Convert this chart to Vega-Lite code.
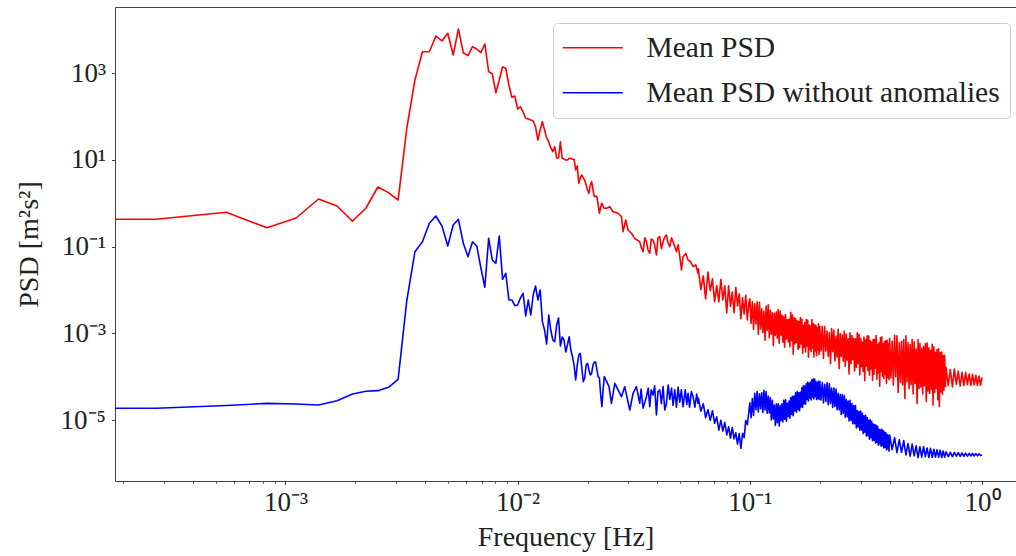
{
  "$schema": "https://vega.github.io/schema/vega-lite/v6.json",
  "width": 901,
  "height": 474,
  "autosize": {"type": "none"},
  "padding": {"left": 115, "top": 7, "right": 0, "bottom": 75},
  "background": "white",
  "config": {
    "view": {"stroke": "#444444", "strokeWidth": 1},
    "font": "Liberation Serif",
    "axis": {
      "domain": false,
      "grid": false,
      "tickColor": "#444444",
      "tickWidth": 1,
      "labelFont": "Liberation Serif",
      "titleFont": "Liberation Serif",
      "labelColor": "#222222",
      "titleColor": "#222222",
      "titleFontWeight": "normal",
      "labelOverlap": false,
      "labelFlush": false
    }
  },
  "encoding": {
    "x": {
      "field": "f",
      "type": "quantitative",
      "scale": {"type": "log", "domain": [0.00018446, 1.4002], "nice": false},
      "axis": {
        "title": "Frequency [Hz]",
        "titleFontSize": 28,
        "titlePadding": 8,
        "labelFontSize": 27,
        "labelPadding": 5,
        "values": [0.0002,0.0003,0.0004,0.0005,0.0006,0.0007,0.0008,0.0009,0.001,0.002,0.003,0.004,0.005,0.006,0.007,0.008,0.009,0.01,0.02,0.03,0.04,0.05,0.06,0.07,0.08,0.09,0.1,0.2,0.3,0.4,0.5,0.6,0.7,0.8,0.9,1],
        "tickSize": {"condition": {"test": "abs(log(datum.value)/LN10 - round(log(datum.value)/LN10)) < 0.01", "value": 3.5}, "value": 2},
        "labelExpr": "abs(log(datum.value)/LN10 - round(log(datum.value)/LN10)) < 0.01 ? '10' + (round(log(datum.value)/LN10) < 0 ? '⁻' : '') + substring('⁰¹²³⁴⁵⁶⁷⁸⁹', abs(round(log(datum.value)/LN10)), abs(round(log(datum.value)/LN10)) + 1) : ''"
      }
    },
    "y": {
      "field": "p",
      "type": "quantitative",
      "scale": {"type": "log", "domain": [3.97e-7, 33540], "nice": false},
      "axis": {
        "title": "PSD [m²s²]",
        "titleFontSize": 28,
        "titlePadding": 17,
        "labelFontSize": 27,
        "labelPadding": 6,
        "tickSize": 3.5,
        "values": [0.00001, 0.001, 0.1, 10, 1000],
        "labelExpr": "'10' + (round(log(datum.value)/LN10) < 0 ? '⁻' : '') + substring('⁰¹²³⁴⁵⁶⁷⁸⁹', abs(round(log(datum.value)/LN10)), abs(round(log(datum.value)/LN10)) + 1)"
      }
    },
    "color": {
      "type": "nominal",
      "scale": {"domain": ["Mean PSD", "Mean PSD without anomalies"], "range": ["#ff0000", "#0000ff"]},
      "legend": {
        "orient": "none",
        "legendX": 438,
        "legendY": 16,
        "title": null,
        "symbolType": "M-3,0H3",
        "symbolSize": 400,
        "symbolStrokeWidth": 1.6,
        "symbolOffset": 15,
        "labelFont": "Liberation Serif",
        "labelFontSize": 29.5,
        "labelColor": "#222222",
        "labelOffset": 39,
        "labelLimit": 0,
        "rowPadding": 14,
        "padding": 10,
        "cornerRadius": 4,
        "strokeColor": "#cccccc",
        "fillColor": "rgba(255,255,255,0.8)"
      }
    }
  },
  "layer": [
    {
      "data": {"values": [
{"f":0.0001,"p":0.428},{"f":0.0002778,"p":0.428},{"f":0.0005556,"p":0.621},{"f":0.0008333,"p":0.274},{"f":0.001111,"p":0.459},{"f":0.001389,"p":1.257},{"f":0.001667,"p":0.868},{"f":0.001944,"p":0.386},{"f":0.002222,"p":0.78},{"f":0.0025,"p":2.38},{"f":0.002778,"p":1.76},{"f":0.003056,"p":1.19},{"f":0.003333,"p":54.5},{"f":0.003611,"p":697},{"f":0.003889,"p":3126},{"f":0.004167,"p":3126},{"f":0.004444,"p":7194},{"f":0.004722,"p":5520},{"f":0.005,"p":8300},{"f":0.005278,"p":2624},{"f":0.005556,"p":10430},{"f":0.005833,"p":2965},{"f":0.006111,"p":2529},{"f":0.006389,"p":4078},{"f":0.006667,"p":3608},{"f":0.006944,"p":2965},{"f":0.007222,"p":4710},{"f":0.0075,"p":1082},{"f":0.007778,"p":957},{"f":0.008056,"p":355},{"f":0.008333,"p":697},{"f":0.008611,"p":1410},{"f":0.008889,"p":1296},{"f":0.009167,"p":534},{"f":0.009444,"p":278},{"f":0.009722,"p":298},{"f":0.01,"p":149},
{"f":0.010278,"p":169},{"f":0.010556,"p":127},{"f":0.010833,"p":91.2},{"f":0.011111,"p":87.9},{"f":0.011389,"p":83.4},{"f":0.011667,"p":79.1},{"f":0.011944,"p":57.4},{"f":0.012222,"p":28.8},{"f":0.0125,"p":49},{"f":0.012778,"p":76.1},{"f":0.013056,"p":49},{"f":0.013333,"p":32.1},{"f":0.013611,"p":26.3},{"f":0.013889,"p":18.9},{"f":0.014167,"p":15.5},{"f":0.014444,"p":20.2},{"f":0.014722,"p":11.1},{"f":0.015,"p":11.1},{"f":0.015278,"p":26.3},{"f":0.015556,"p":10.9},{"f":0.015833,"p":10.5},{"f":0.016111,"p":9.97},{"f":0.016389,"p":9.97},{"f":0.016667,"p":10.9},{"f":0.016944,"p":10.9},{"f":0.017222,"p":10.4},{"f":0.0175,"p":10.4},{"f":0.017778,"p":5.86},{"f":0.018056,"p":7.25},{"f":0.018333,"p":2.89},{"f":0.018611,"p":3.84},{"f":0.018889,"p":4.5},{"f":0.019167,"p":3.84},{"f":0.019444,"p":3.45},{"f":0.019722,"p":2.64},{"f":0.02,"p":2.03},{"f":0.020278,"p":1.7},{"f":0.020556,"p":2.64},{"f":0.020833,"p":3.15},{"f":0.021111,"p":2.03},{"f":0.021389,"p":1.42},{"f":0.021667,"p":1.47},{"f":0.021944,"p":1.42},{"f":0.022222,"p":0.915},{"f":0.0225,"p":0.589},{"f":0.022778,"p":0.822},{"f":0.023056,"p":1.0},{"f":0.023333,"p":0.867},{"f":0.023611,"p":0.767},
{"f":0.02413,"p":0.768},{"f":0.02492,"p":0.836},{"f":0.02576,"p":0.641},{"f":0.02706,"p":0.589},{"f":0.02799,"p":0.491},{"f":0.02844,"p":0.222},{"f":0.02921,"p":0.413},{"f":0.02988,"p":0.243},{"f":0.03091,"p":0.204},{"f":0.03193,"p":0.156},{"f":0.03355,"p":0.13},{"f":0.0341,"p":0.095},{"f":0.03467,"p":0.0767},{"f":0.0353,"p":0.16},{"f":0.03586,"p":0.13},{"f":0.0364,"p":0.085},{"f":0.03705,"p":0.0705},{"f":0.0376,"p":0.15},{"f":0.03828,"p":0.143},{"f":0.0389,"p":0.11},{"f":0.0396,"p":0.0644},{"f":0.0402,"p":0.16},{"f":0.04093,"p":0.17},{"f":0.0416,"p":0.09},{"f":0.04229,"p":0.13},{"f":0.043,"p":0.17},{"f":0.04373,"p":0.186},{"f":0.0445,"p":0.12},{"f":0.04519,"p":0.1},{"f":0.046,"p":0.16},{"f":0.0467,"p":0.13},{"f":0.0475,"p":0.1},{"f":0.0483,"p":0.0767},{"f":0.0491,"p":0.11},{"f":0.0499,"p":0.06},{"f":0.05075,"p":0.029},{"f":0.05156,"p":0.0588},{"f":0.053,"p":0.07},{"f":0.05418,"p":0.0494},{"f":0.0556,"p":0.045},{"f":0.05693,"p":0.0346},{"f":0.0585,"p":0.038},{"f":0.05981,"p":0.0244},
{"f":0.06,"p":0.0309},{"f":0.0615,"p":0.0102},{"f":0.063,"p":0.0212},{"f":0.0645,"p":0.00625},{"f":0.066,"p":0.0261},{"f":0.0675,"p":0.0097},{"f":0.069,"p":0.0182},{"f":0.0705,"p":0.00538},{"f":0.072,"p":0.0127},{"f":0.0735,"p":0.00532},{"f":0.075,"p":0.0178},{"f":0.0765,"p":0.00594},{"f":0.078,"p":0.0126},{"f":0.0795,"p":0.00299},{"f":0.081,"p":0.0126},{"f":0.0825,"p":0.00423},{"f":0.084,"p":0.00897},{"f":0.0855,"p":0.00302},{"f":0.087,"p":0.0114},{"f":0.0885,"p":0.00432},{"f":0.09,"p":0.0082},{"f":0.0915,"p":0.0022},{"f":0.093,"p":0.00662},{"f":0.0945,"p":0.00282},{"f":0.096,"p":0.00759},{"f":0.0975,"p":0.00204},{"f":0.099,"p":0.0049},
{"f":0.1,"p":0.00631},{"f":0.10125,"p":0.00171},{"f":0.1025,"p":0.00545},{"f":0.10375,"p":0.00126},{"f":0.105,"p":0.00482},{"f":0.10625,"p":0.00165},{"f":0.1075,"p":0.00538},{"f":0.10875,"p":0.000966},{"f":0.11,"p":0.00525},{"f":0.11125,"p":0.00127},{"f":0.1125,"p":0.00371},{"f":0.11375,"p":0.00106},{"f":0.115,"p":0.00323},{"f":0.11625,"p":0.000698},{"f":0.1175,"p":0.00426},{"f":0.11875,"p":0.00117},{"f":0.12,"p":0.00456},{"f":0.12125,"p":0.000796},{"f":0.1225,"p":0.00341},{"f":0.12375,"p":0.000966},{"f":0.125,"p":0.00301},{"f":0.12625,"p":0.000525},{"f":0.1275,"p":0.0029},{"f":0.12875,"p":0.000902},{"f":0.13,"p":0.00315},{"f":0.13125,"p":0.000776},{"f":0.1325,"p":0.00357},{"f":0.13375,"p":0.000597},{"f":0.135,"p":0.0033},{"f":0.13625,"p":0.000916},{"f":0.1375,"p":0.00266},{"f":0.13875,"p":0.000628},{"f":0.14,"p":0.00246},{"f":0.14125,"p":0.000483},{"f":0.1425,"p":0.00274},{"f":0.14375,"p":0.000743},{"f":0.145,"p":0.00206},{"f":0.14625,"p":0.000641},{"f":0.1475,"p":0.00214},{"f":0.14875,"p":0.000494},{"f":0.15,"p":0.00308},{"f":0.15125,"p":0.000679},{"f":0.1525,"p":0.00267},{"f":0.15375,"p":0.00033},{"f":0.155,"p":0.00231},{"f":0.15625,"p":0.000571},{"f":0.1575,"p":0.00219},{"f":0.15875,"p":0.000624},{"f":0.16,"p":0.00195},{"f":0.16125,"p":0.00043},{"f":0.1625,"p":0.00189},{"f":0.16375,"p":0.000469},{"f":0.165,"p":0.00232},{"f":0.16625,"p":0.000574},{"f":0.1675,"p":0.00215},{"f":0.16875,"p":0.000352},{"f":0.17,"p":0.00155},{"f":0.17125,"p":0.000484},{"f":0.1725,"p":0.00177},{"f":0.17375,"p":0.000375},{"f":0.175,"p":0.00208},{"f":0.17625,"p":0.000515},{"f":0.1775,"p":0.00202},{"f":0.17875,"p":0.000282},{"f":0.18,"p":0.00157},{"f":0.18125,"p":0.000436},{"f":0.1825,"p":0.00146},{"f":0.18375,"p":0.000379},{"f":0.185,"p":0.0021},{"f":0.18625,"p":0.000465},{"f":0.1875,"p":0.00167},{"f":0.18875,"p":0.000286},{"f":0.19,"p":0.00159},{"f":0.19125,"p":0.000394},{"f":0.1925,"p":0.00152},{"f":0.19375,"p":0.000306},{"f":0.195,"p":0.00135},{"f":0.19625,"p":0.000422},{"f":0.1975,"p":0.00166},{"f":0.19875,"p":0.000327},
{"f":0.2,"p":0.00145},{"f":0.2025,"p":0.000395},{"f":0.205,"p":0.00146},{"f":0.2075,"p":0.000265},{"f":0.21,"p":0.00145},{"f":0.2125,"p":0.000397},{"f":0.215,"p":0.00114},{"f":0.2175,"p":0.000299},{"f":0.22,"p":0.00103},{"f":0.2225,"p":0.0002},{"f":0.225,"p":0.00129},{"f":0.2275,"p":0.000381},{"f":0.23,"p":0.00118},{"f":0.2325,"p":0.000232},{"f":0.235,"p":0.000867},{"f":0.2375,"p":0.000282},{"f":0.24,"p":0.00124},{"f":0.2425,"p":0.000154},{"f":0.245,"p":0.000977},{"f":0.2475,"p":0.000297},{"f":0.25,"p":0.000925},{"f":0.2525,"p":0.000229},{"f":0.255,"p":0.00113},{"f":0.2575,"p":0.000176},{"f":0.26,"p":0.000975},{"f":0.2625,"p":0.000241},{"f":0.265,"p":0.000752},{"f":0.2675,"p":0.000117},{"f":0.27,"p":0.00103},{"f":0.2725,"p":0.000203},{"f":0.275,"p":0.000893},{"f":0.2775,"p":0.000248},{"f":0.28,"p":0.000773},{"f":0.2825,"p":0.000136},{"f":0.285,"p":0.000752},{"f":0.2875,"p":0.000166},{"f":0.29,"p":0.00103},{"f":0.2925,"p":0.000203},{"f":0.295,"p":0.000962},{"f":0.2975,"p":0.000111},{"f":0.3,"p":0.000778},{"f":0.3025,"p":0.000172},{"f":0.305,"p":0.000631},{"f":0.3075,"p":0.000133},{"f":0.31,"p":0.00083},{"f":0.3125,"p":0.0000818},{"f":0.315,"p":0.000721},{"f":0.3175,"p":0.000179},{"f":0.32,"p":0.000887},{"f":0.3225,"p":0.000139},{"f":0.325,"p":0.000871},{"f":0.3275,"p":0.000109},{"f":0.33,"p":0.000679},{"f":0.3325,"p":0.000151},{"f":0.335,"p":0.000637},{"f":0.3375,"p":0.0000832},{"f":0.34,"p":0.000735},{"f":0.3425,"p":0.000115},{"f":0.345,"p":0.000723},{"f":0.3475,"p":0.00016},{"f":0.35,"p":0.000893},{"f":0.3525,"p":0.0000885},{"f":0.355,"p":0.000555},{"f":0.3575,"p":0.000123},{"f":0.36,"p":0.000611},{"f":0.3625,"p":0.0000605},{"f":0.365,"p":0.000793},{"f":0.3675,"p":0.000133},{"f":0.37,"p":0.000836},{"f":0.3725,"p":0.000104},{"f":0.375,"p":0.000582},{"f":0.3775,"p":0.0000914},{"f":0.38,"p":0.000643},{"f":0.3825,"p":0.000113},{"f":0.385,"p":0.000678},{"f":0.3875,"p":0.0000705},{"f":0.39,"p":0.0007},{"f":0.3925,"p":0.0000979},{"f":0.395,"p":0.000586},{"f":0.3975,"p":0.0000861},
{"f":0.4,"p":0.00076},{"f":0.405,"p":0.0000944},{"f":0.41,"p":0.000658},{"f":0.415,"p":0.0000649},{"f":0.42,"p":0.000904},{"f":0.425,"p":0.0001},{"f":0.43,"p":0.000879},{"f":0.435,"p":0.0000435},{"f":0.44,"p":0.000605},{"f":0.445,"p":0.0000752},{"f":0.45,"p":0.000661},{"f":0.455,"p":0.0000652},{"f":0.46,"p":0.000721},{"f":0.465,"p":0.0000318},{"f":0.47,"p":0.000883},{"f":0.475,"p":0.0000776},{"f":0.48,"p":0.00061},{"f":0.485,"p":0.0000536},{"f":0.49,"p":0.000553},{"f":0.495,"p":0.0000656},{"f":0.5,"p":0.000728},{"f":0.505,"p":0.0000404},{"f":0.51,"p":0.000632},{"f":0.515,"p":0.0000701},{"f":0.52,"p":0.000438},{"f":0.525,"p":0.0000243},{"f":0.53,"p":0.000724},{"f":0.535,"p":0.0000531},{"f":0.54,"p":0.000589},{"f":0.545,"p":0.0000582},{"f":0.55,"p":0.000457},{"f":0.555,"p":0.0000403},{"f":0.56,"p":0.000501},{"f":0.565,"p":0.0000624},{"f":0.57,"p":0.000575},{"f":0.575,"p":0.0000272},{"f":0.58,"p":0.000604},{"f":0.585,"p":0.0000474},{"f":0.59,"p":0.000469},{"f":0.595,"p":0.0000413},{"f":0.6,"p":0.000409},{"f":0.605,"p":0.0000509},{"f":0.61,"p":0.000566},{"f":0.615,"p":0.0000223},{"f":0.62,"p":0.000494},{"f":0.625,"p":0.0000436},{"f":0.63,"p":0.000367},{"f":0.635,"p":0.0000538},{"f":0.64,"p":0.000424},{"f":0.645,"p":0.0000296},{"f":0.65,"p":0.000445},{"f":0.655,"p":0.0000206},{"f":0.66,"p":0.000363},{"f":0.665,"p":0.0000452},{"f":0.67,"p":0.000372},{"f":0.675,"p":0.0000395},{"f":0.68,"p":0.000311},{"f":0.685,"p":0.0000489},{"f":0.69,"p":0.000313},{"f":0.695,"p":0.0000604},
{"f":0.7,"p":0.000166},{"f":0.715,"p":0.0000625},{"f":0.73,"p":0.000148},{"f":0.745,"p":0.0000584},{"f":0.76,"p":0.000152},{"f":0.775,"p":0.0000672},{"f":0.79,"p":0.000136},{"f":0.805,"p":0.0000614},{"f":0.82,"p":0.000127},{"f":0.835,"p":0.000063},{"f":0.85,"p":0.000127},{"f":0.865,"p":0.0000661},{"f":0.88,"p":0.000116},{"f":0.895,"p":0.0000633},{"f":0.91,"p":0.000114},{"f":0.925,"p":0.0000649},{"f":0.94,"p":0.000109},{"f":0.955,"p":0.0000636},{"f":0.97,"p":0.000104},{"f":0.985,"p":0.0000637},{"f":1.0,"p":0.0000977}
      ]},
      "mark": {"type": "line", "clip": true, "strokeWidth": 1.6, "strokeJoin": "round"},
      "encoding": {"color": {"datum": "Mean PSD"}}
    },
    {
      "data": {"values": [
{"f":0.0001,"p":1.88e-5},{"f":0.0002778,"p":1.88e-5},{"f":0.0005556,"p":2.18e-5},{"f":0.0008333,"p":2.45e-5},{"f":0.001111,"p":2.37e-5},{"f":0.001389,"p":2.24e-5},{"f":0.001667,"p":2.82e-5},{"f":0.001944,"p":4.03e-5},{"f":0.002222,"p":4.65e-5},{"f":0.0025,"p":4.8e-5},{"f":0.002778,"p":5.74e-5},{"f":0.003056,"p":8.77e-5},{"f":0.003333,"p":0.0059},{"f":0.003611,"p":0.0767},{"f":0.003889,"p":0.13},{"f":0.004167,"p":0.346},{"f":0.004444,"p":0.51},{"f":0.004722,"p":0.3},{"f":0.005,"p":0.104},{"f":0.005278,"p":0.316},{"f":0.005556,"p":0.428},{"f":0.005833,"p":0.12},{"f":0.006111,"p":0.0588},{"f":0.006389,"p":0.13},{"f":0.006667,"p":0.104},{"f":0.006944,"p":0.0323},{"f":0.007222,"p":0.0116},{"f":0.0075,"p":0.156},{"f":0.007778,"p":0.0493},{"f":0.008056,"p":0.0414},{"f":0.008333,"p":0.177},{"f":0.008611,"p":0.0177},{"f":0.008889,"p":0.0244},{"f":0.009167,"p":0.00591},{"f":0.009444,"p":0.00591},{"f":0.009722,"p":0.00437},{"f":0.01,"p":0.00453},
{"f":0.010278,"p":0.00656},{"f":0.010556,"p":0.00843},{"f":0.010833,"p":0.00253},{"f":0.011111,"p":0.00591},{"f":0.011389,"p":0.00267},{"f":0.011667,"p":0.00771},{"f":0.011944,"p":0.0124},{"f":0.012222,"p":0.00591},{"f":0.0125,"p":0.01005},{"f":0.012778,"p":0.00187},{"f":0.013056,"p":0.0012},{"f":0.013333,"p":0.000571},{"f":0.013611,"p":0.00267},{"f":0.013889,"p":0.0012},{"f":0.014167,"p":0.000706},{"f":0.014444,"p":0.000646},{"f":0.014722,"p":0.00157},{"f":0.015,"p":0.00227},{"f":0.015278,"p":0.000514},{"f":0.015556,"p":0.000828},{"f":0.015833,"p":0.000706},{"f":0.016111,"p":0.000374},{"f":0.016389,"p":0.000542},{"f":0.016667,"p":0.000841},{"f":0.016944,"p":0.000416},{"f":0.017222,"p":0.000291},{"f":0.0175,"p":0.000187},{"f":0.017778,"p":0.0000845},{"f":0.018056,"p":0.000187},{"f":0.018333,"p":0.000319},{"f":0.018611,"p":0.000349},{"f":0.018889,"p":0.00016},{"f":0.019167,"p":0.0000773},{"f":0.019444,"p":0.000094},{"f":0.019722,"p":0.000187},{"f":0.02,"p":0.000205},{"f":0.020278,"p":0.000144},{"f":0.020556,"p":0.00011},{"f":0.020833,"p":0.000121},{"f":0.021111,"p":0.000187},{"f":0.021389,"p":0.00022},{"f":0.021667,"p":0.00022},{"f":0.021944,"p":0.000144},{"f":0.022222,"p":0.000101},{"f":0.0225,"p":0.000094},{"f":0.022778,"p":0.0000381},{"f":0.023056,"p":0.0000205},{"f":0.023333,"p":0.0000498},{"f":0.023611,"p":0.000101},
{"f":0.02475,"p":0.0000593},{"f":0.02535,"p":0.0000245},{"f":0.02619,"p":0.000071},{"f":0.02706,"p":0.0000498},{"f":0.02799,"p":0.0000348},{"f":0.02891,"p":0.0000593},{"f":0.0304,"p":0.0000172},{"f":0.03141,"p":0.0000418},{"f":0.03248,"p":0.0000593},{"f":0.03355,"p":0.0000245},{"f":0.034,"p":0.000052},{"f":0.0347,"p":0.000019},{"f":0.03586,"p":0.0000348},{"f":0.0365,"p":0.000055},{"f":0.03705,"p":0.0000205},{"f":0.0376,"p":0.00005},{"f":0.03828,"p":0.0000381},{"f":0.0389,"p":0.000062},{"f":0.0396,"p":0.0000132},{"f":0.0402,"p":0.000045},{"f":0.04093,"p":0.0000498},{"f":0.0416,"p":0.000024},{"f":0.0423,"p":0.00006},{"f":0.043,"p":0.0000172},{"f":0.0437,"p":0.000024},{"f":0.0445,"p":0.000065},{"f":0.04519,"p":0.00003},{"f":0.046,"p":0.000055},{"f":0.0467,"p":0.000022},{"f":0.04749,"p":0.00005},{"f":0.0483,"p":0.00002},{"f":0.0491,"p":0.000058},{"f":0.0499,"p":0.000026},{"f":0.0507,"p":0.00005},{"f":0.05156,"p":0.0000205},{"f":0.0527,"p":0.00005},{"f":0.0535,"p":0.000023},{"f":0.05418,"p":0.0000418},{"f":0.055,"p":0.00002},{"f":0.056,"p":0.000046},{"f":0.05693,"p":0.0000348},{"f":0.058,"p":0.00002},{"f":0.059,"p":0.00004},{"f":0.05981,"p":0.0000245},
{"f":0.06,"p":3.24e-5},{"f":0.0615,"p":1.62e-5},{"f":0.063,"p":2.4e-5},{"f":0.0645,"p":1.15e-5},{"f":0.066,"p":1.74e-5},{"f":0.0675,"p":1.0e-5},{"f":0.069,"p":1.66e-5},{"f":0.0705,"p":8.51e-6},{"f":0.072,"p":1.2e-5},{"f":0.0735,"p":5.89e-6},{"f":0.075,"p":1.0e-5},{"f":0.0765,"p":5.62e-6},{"f":0.078,"p":8.91e-6},{"f":0.0795,"p":4.57e-6},{"f":0.081,"p":7.08e-6},{"f":0.0825,"p":3.89e-6},{"f":0.084,"p":6.76e-6},{"f":0.0855,"p":3.72e-6},{"f":0.087,"p":5.13e-6},{"f":0.0885,"p":2.82e-6},{"f":0.09,"p":4.9e-6},{"f":0.0915,"p":2.24e-6},{"f":0.093,"p":5.01e-6},{"f":0.0945,"p":3.98e-6},{"f":0.096,"p":9.77e-6},{"f":0.0975,"p":7.94e-6},{"f":0.099,"p":1.55e-5},
{"f":0.1,"p":2.51e-5},{"f":0.10125,"p":1.15e-5},{"f":0.1025,"p":3.16e-5},{"f":0.10375,"p":1.29e-5},{"f":0.105,"p":4.17e-5},{"f":0.10625,"p":1.74e-5},{"f":0.1075,"p":4.57e-5},{"f":0.10875,"p":1.55e-5},{"f":0.11,"p":4.07e-5},{"f":0.11125,"p":1.84e-5},{"f":0.1125,"p":4.27e-5},{"f":0.11375,"p":1.51e-5},{"f":0.115,"p":4.9e-5},{"f":0.11625,"p":1.72e-5},{"f":0.1175,"p":4.57e-5},{"f":0.11875,"p":1.45e-5},{"f":0.12,"p":3.63e-5},{"f":0.12125,"p":1.48e-5},{"f":0.1225,"p":3.31e-5},{"f":0.12375,"p":1.02e-5},{"f":0.125,"p":2.88e-5},{"f":0.12625,"p":1.07e-5},{"f":0.1275,"p":2.24e-5},{"f":0.12875,"p":7.59e-6},{"f":0.13,"p":2.4e-5},{"f":0.13125,"p":8.71e-6},{"f":0.1325,"p":2.4e-5},{"f":0.13375,"p":7.41e-6},{"f":0.135,"p":2.19e-5},{"f":0.13625,"p":9.77e-6},{"f":0.1375,"p":2.4e-5},{"f":0.13875,"p":9.12e-6},{"f":0.14,"p":2.88e-5},{"f":0.14125,"p":1.06e-5},{"f":0.1425,"p":2.95e-5},{"f":0.14375,"p":9.44e-6},{"f":0.145,"p":2.45e-5},{"f":0.14625,"p":1.2e-5},{"f":0.1475,"p":2.75e-5},{"f":0.14875,"p":1.12e-5},{"f":0.15,"p":3.31e-5},{"f":0.15125,"p":1.36e-5},{"f":0.1525,"p":3.55e-5},{"f":0.15375,"p":1.27e-5},{"f":0.155,"p":3.63e-5},{"f":0.15625,"p":1.64e-5},{"f":0.1575,"p":4.27e-5},{"f":0.15875,"p":1.53e-5},{"f":0.16,"p":4.57e-5},{"f":0.16125,"p":1.78e-5},{"f":0.1625,"p":4.27e-5},{"f":0.16375,"p":1.64e-5},{"f":0.165,"p":4.47e-5},{"f":0.16625,"p":2.02e-5},{"f":0.1675,"p":5.62e-5},{"f":0.16875,"p":2.0e-5},{"f":0.17,"p":6.31e-5},{"f":0.17125,"p":2.4e-5},{"f":0.1725,"p":6.17e-5},{"f":0.17375,"p":2.34e-5},{"f":0.175,"p":6.92e-5},{"f":0.17625,"p":2.99e-5},{"f":0.1775,"p":7.59e-5},{"f":0.17875,"p":2.79e-5},{"f":0.18,"p":7.08e-5},{"f":0.18125,"p":3.24e-5},{"f":0.1825,"p":7.59e-5},{"f":0.18375,"p":2.92e-5},{"f":0.185,"p":8.51e-5},{"f":0.18625,"p":3.39e-5},{"f":0.1875,"p":8.91e-5},{"f":0.18875,"p":3.09e-5},{"f":0.19,"p":8.91e-5},{"f":0.19125,"p":3.51e-5},{"f":0.1925,"p":7.94e-5},{"f":0.19375,"p":2.99e-5},{"f":0.195,"p":7.41e-5},{"f":0.19625,"p":3.2e-5},{"f":0.1975,"p":7.94e-5},{"f":0.19875,"p":3.02e-5},
{"f":0.2,"p":7.94e-5},{"f":0.2025,"p":2.92e-5},{"f":0.205,"p":7.41e-5},{"f":0.2075,"p":2.51e-5},{"f":0.21,"p":6.76e-5},{"f":0.2125,"p":2.72e-5},{"f":0.215,"p":7.24e-5},{"f":0.2175,"p":2.29e-5},{"f":0.22,"p":6.92e-5},{"f":0.2225,"p":2.43e-5},{"f":0.225,"p":5.5e-5},{"f":0.2275,"p":1.97e-5},{"f":0.23,"p":5.5e-5},{"f":0.2325,"p":2.09e-5},{"f":0.235,"p":5.25e-5},{"f":0.2375,"p":1.74e-5},{"f":0.24,"p":4.17e-5},{"f":0.2425,"p":1.72e-5},{"f":0.245,"p":3.98e-5},{"f":0.2475,"p":1.35e-5},{"f":0.25,"p":3.89e-5},{"f":0.2525,"p":1.43e-5},{"f":0.255,"p":3.72e-5},{"f":0.2575,"p":1.17e-5},{"f":0.26,"p":3.02e-5},{"f":0.2625,"p":1.2e-5},{"f":0.265,"p":2.75e-5},{"f":0.2675,"p":9.55e-6},{"f":0.27,"p":2.88e-5},{"f":0.2725,"p":1.0e-5},{"f":0.275,"p":2.45e-5},{"f":0.2775,"p":8.32e-6},{"f":0.28,"p":2.19e-5},{"f":0.2825,"p":8.32e-6},{"f":0.285,"p":2.19e-5},{"f":0.2875,"p":6.61e-6},{"f":0.29,"p":1.66e-5},{"f":0.2925,"p":7.0e-6},{"f":0.295,"p":1.58e-5},{"f":0.2975,"p":5.89e-6},{"f":0.3,"p":1.62e-5},{"f":0.3025,"p":5.96e-6},{"f":0.305,"p":1.45e-5},{"f":0.3075,"p":4.9e-6},{"f":0.31,"p":1.26e-5},{"f":0.3125,"p":5.31e-6},{"f":0.315,"p":1.29e-5},{"f":0.3175,"p":4.32e-6},{"f":0.32,"p":1.15e-5},{"f":0.3225,"p":4.37e-6},{"f":0.325,"p":1.0e-5},{"f":0.3275,"p":3.67e-6},{"f":0.33,"p":1.02e-5},{"f":0.3325,"p":3.94e-6},{"f":0.335,"p":9.33e-6},{"f":0.3375,"p":3.35e-6},{"f":0.34,"p":8.13e-6},{"f":0.3425,"p":3.47e-6},{"f":0.345,"p":7.94e-6},{"f":0.3475,"p":2.99e-6},{"f":0.35,"p":7.59e-6},{"f":0.3525,"p":3.09e-6},{"f":0.355,"p":7.24e-6},{"f":0.3575,"p":2.66e-6},{"f":0.36,"p":6.17e-6},{"f":0.3625,"p":2.88e-6},{"f":0.365,"p":6.03e-6},{"f":0.3675,"p":2.51e-6},{"f":0.37,"p":6.17e-6},{"f":0.3725,"p":2.63e-6},{"f":0.375,"p":5.75e-6},{"f":0.3775,"p":2.29e-6},{"f":0.38,"p":5.37e-6},{"f":0.3825,"p":2.4e-6},{"f":0.385,"p":5.13e-6},{"f":0.3875,"p":2.09e-6},{"f":0.39,"p":4.68e-6},{"f":0.3925,"p":2.19e-6},{"f":0.395,"p":4.47e-6},{"f":0.3975,"p":1.93e-6},
{"f":0.4,"p":4.57e-6},{"f":0.41,"p":2.09e-6},{"f":0.42,"p":3.98e-6},{"f":0.43,"p":1.78e-6},{"f":0.44,"p":3.55e-6},{"f":0.45,"p":1.82e-6},{"f":0.46,"p":3.39e-6},{"f":0.47,"p":1.58e-6},{"f":0.48,"p":2.88e-6},{"f":0.49,"p":1.48e-6},{"f":0.5,"p":2.82e-6},{"f":0.51,"p":1.51e-6},{"f":0.52,"p":2.57e-6},{"f":0.53,"p":1.38e-6},{"f":0.54,"p":2.45e-6},{"f":0.55,"p":1.41e-6},{"f":0.56,"p":2.45e-6},{"f":0.57,"p":1.45e-6},{"f":0.58,"p":2.29e-6},{"f":0.59,"p":1.38e-6},{"f":0.6,"p":2.24e-6},{"f":0.61,"p":1.38e-6},{"f":0.62,"p":2.14e-6},{"f":0.63,"p":1.41e-6},{"f":0.64,"p":2.09e-6},{"f":0.65,"p":1.41e-6},{"f":0.66,"p":2.04e-6},{"f":0.67,"p":1.38e-6},{"f":0.68,"p":1.95e-6},{"f":0.69,"p":1.41e-6},
{"f":0.7,"p":1.86e-6},{"f":0.715,"p":1.45e-6},{"f":0.73,"p":1.82e-6},{"f":0.745,"p":1.45e-6},{"f":0.76,"p":1.82e-6},{"f":0.775,"p":1.48e-6},{"f":0.79,"p":1.78e-6},{"f":0.805,"p":1.46e-6},{"f":0.82,"p":1.76e-6},{"f":0.835,"p":1.46e-6},{"f":0.85,"p":1.74e-6},{"f":0.865,"p":1.48e-6},{"f":0.88,"p":1.72e-6},{"f":0.895,"p":1.5e-6},{"f":0.91,"p":1.72e-6},{"f":0.925,"p":1.5e-6},{"f":0.94,"p":1.7e-6},{"f":0.955,"p":1.51e-6},{"f":0.97,"p":1.68e-6},{"f":0.985,"p":1.53e-6},{"f":1.0,"p":1.58e-6}
      ]},
      "mark": {"type": "line", "clip": true, "strokeWidth": 1.6, "strokeJoin": "round"},
      "encoding": {"color": {"datum": "Mean PSD without anomalies"}}
    }
  ]
}
